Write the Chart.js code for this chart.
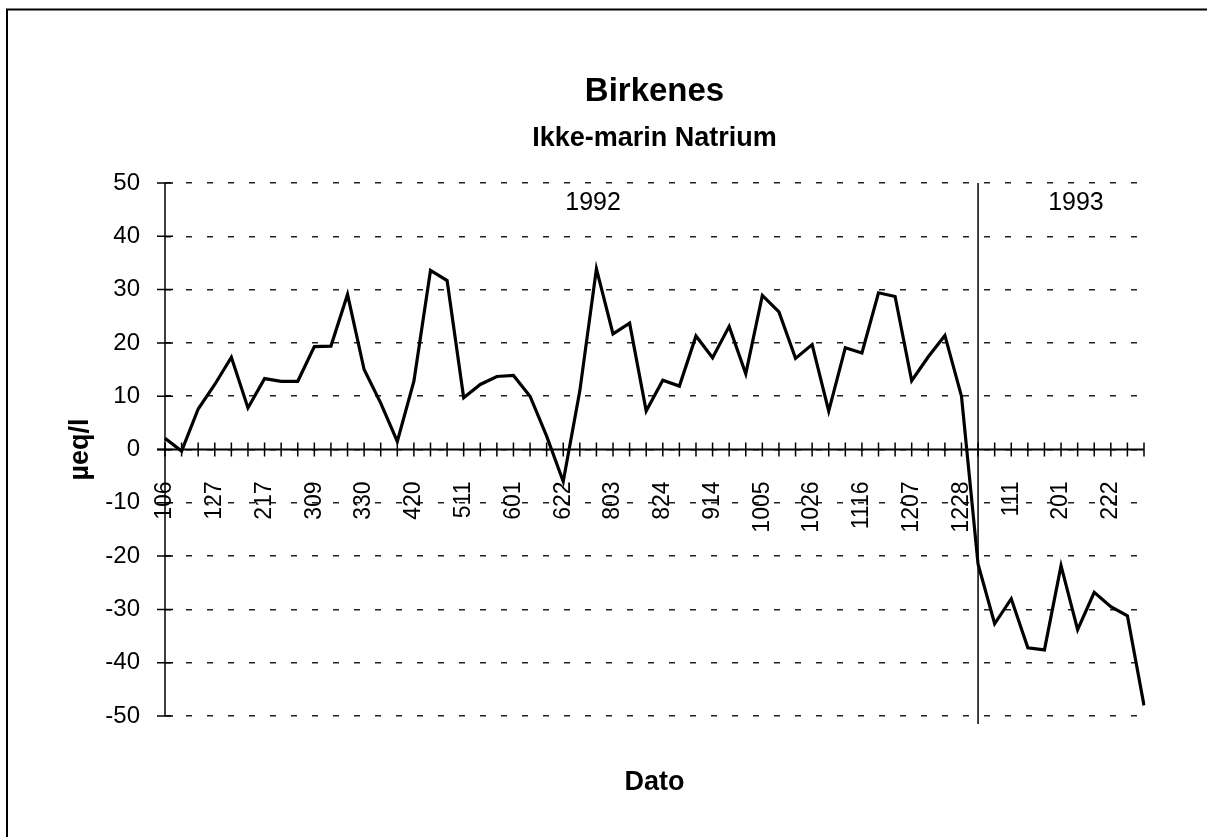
<!DOCTYPE html>
<html>
<head>
<meta charset="utf-8">
<title>Birkenes - Ikke-marin Natrium</title>
<script src="https://cdn.jsdelivr.net/npm/chart.js@4.4.1/dist/chart.umd.min.js"></script>
<style>
  html, body { margin: 0; padding: 0; background: #fff; }
  #grafico { display: block; }
</style>
</head>
<body>
<canvas id="grafico" width="1214" height="837"></canvas>
<script>
// prøvedatoer (mmdd), ukentlige prøver jan 1992 - mars 1993
const datoer = [
  '106', '113', '120', '127', '203', '210', '217', '224', '302', '309',
  '316', '323', '330', '406', '413', '420', '427', '504', '511', '518',
  '525', '601', '608', '615', '622', '629', '727', '803', '810', '817',
  '824', '831', '907', '914', '921', '928', '1005', '1012', '1019', '1026',
  '1102', '1109', '1116', '1123', '1130', '1207', '1214', '1221', '1228', '1231',
  '104', '111', '118', '125', '201', '208', '215', '222', '301', '308'
];

// µeq/l
const verdier = [
  2.1, -0.3, 7.6, 12.2, 17.3, 7.8, 13.3, 12.8, 12.8, 19.3,
  19.4, 29.1, 15.0, 8.7, 1.5, 12.8, 33.6, 31.7, 9.7, 12.2,
  13.7, 13.9, 10.0, 2.5, -6.0, 11.0, 33.9, 21.7, 23.7, 7.2,
  13.0, 11.9, 21.3, 17.2, 23.1, 14.2, 28.9, 25.8, 17.1, 19.7,
  7.2, 19.1, 18.1, 29.4, 28.7, 12.9, 17.4, 21.4, 10.0, -21.5,
  -32.7, -28.0, -37.2, -37.6, -21.8, -33.8, -26.8, -29.5, -31.2, -48.0
];

const aar = ['1992', '1993'];
const aarPlassering = [25.8, 54.9]; // kategoriindeks der årstallet står
const aarSkille = 49;               // indeks for skillelinja mellom årene

const FONT = "'Liberation Sans', Arial, sans-serif";
const FONT_SMAL = "'Liberation Sans Narrow', 'Arial Narrow', 'Liberation Sans', sans-serif";

const tegnEkstra = {
  id: 'tegnEkstra',
  beforeDraw(chart) {
    const ctx = chart.ctx;
    ctx.save();
    ctx.fillStyle = '#fff';
    ctx.fillRect(0, 0, chart.width, chart.height);
    // ramme (bare venstre og øvre kant synlig)
    ctx.strokeStyle = '#000';
    ctx.lineWidth = 2;
    ctx.beginPath();
    ctx.moveTo(7, chart.height);
    ctx.lineTo(7, 9.5);
    ctx.lineTo(1207, 9.5);
    ctx.stroke();
    ctx.restore();
  },
  beforeDatasetsDraw(chart) {
    const { ctx, chartArea, scales: { x, y } } = chart;
    const y0 = y.getPixelForValue(0);
    ctx.save();
    ctx.strokeStyle = '#000';

    // y-akse med kryssende merker
    ctx.lineWidth = 1.5;
    ctx.beginPath();
    ctx.moveTo(chartArea.left, chartArea.top);
    ctx.lineTo(chartArea.left, chartArea.bottom);
    y.ticks.forEach((t, i) => {
      const py = y.getPixelForTick(i);
      ctx.moveTo(chartArea.left - 8, py);
      ctx.lineTo(chartArea.left + 8, py);
    });
    ctx.stroke();

    // x-akse ved 0 med kryssende merker
    ctx.lineWidth = 2;
    ctx.beginPath();
    ctx.moveTo(chartArea.left - 8, y0);
    ctx.lineTo(chartArea.right, y0);
    ctx.stroke();
    ctx.lineWidth = 1.5;
    ctx.beginPath();
    x.ticks.forEach((t, i) => {
      const px = x.getPixelForTick(i);
      ctx.moveTo(px, y0 - 7);
      ctx.lineTo(px, y0 + 7);
    });
    ctx.stroke();

    // skillelinje mellom 1992 og 1993
    const sx = x.getPixelForValue(aarSkille);
    ctx.lineWidth = 1.5;
    ctx.beginPath();
    ctx.moveTo(sx, chartArea.top);
    ctx.lineTo(sx, chartArea.bottom + 8);
    ctx.stroke();
    ctx.restore();
  },
  afterDraw(chart) {
    const { ctx, chartArea, scales: { x, y } } = chart;
    ctx.save();
    ctx.fillStyle = '#000';
    ctx.textAlign = 'center';
    ctx.textBaseline = 'middle';
    ctx.font = '25px ' + FONT;
    aar.forEach((a, i) => {
      ctx.fillText(a, x.getPixelForValue(aarPlassering[i]), y.getPixelForValue(46.3));
    });
    ctx.font = 'bold 27px ' + FONT;
    ctx.fillText('Dato', (chartArea.left + chartArea.right) / 2, chartArea.bottom + 67);
    ctx.restore();
  }
};

const grafico = new Chart(document.getElementById('grafico'), {
  type: 'line',
  data: {
    labels: datoer,
    datasets: [{
      label: 'Ikke-marin Natrium',
      data: verdier,
      borderColor: '#000',
      backgroundColor: '#000',
      borderWidth: 3.2,
      pointRadius: 0,
      tension: 0,
      fill: false
    }]
  },
  options: {
    responsive: false,
    animation: false,
    layout: { padding: { left: 8, right: 70, top: 0, bottom: 121 } },
    scales: {
      x: {
        type: 'category',
        offset: false,
        position: { y: 0 },
        grid: { display: false },
        border: { display: false },
        ticks: {
          autoSkip: false,
          minRotation: 90,
          maxRotation: 90,
          padding: 24,
          color: '#000',
          font: { family: FONT_SMAL, size: 23 },
          callback: function (v, i) { return i % 3 === 0 ? this.getLabelForValue(v) : ''; }
        }
      },
      y: {
        min: -50,
        max: 50,
        afterFit: s => { s.width = 157; },
        grid: {
          color: '#222',
          lineWidth: 1.5,
          drawTicks: false
        },
        border: { display: false, dash: [6, 15] },
        ticks: {
          stepSize: 10,
          padding: 25,
          color: '#000',
          font: { family: FONT, size: 24 }
        },
        title: {
          display: true,
          text: 'µeq/l',
          color: '#000',
          font: { family: FONT, size: 27, weight: 'bold' },
          padding: { top: 56, bottom: 0 }
        }
      }
    },
    plugins: {
      legend: { display: false },
      tooltip: { enabled: false },
      title: {
        display: true,
        text: 'Birkenes',
        fullSize: false,
        color: '#000',
        font: { family: FONT, size: 33, weight: 'bold' },
        padding: { top: 72, bottom: 11 }
      },
      subtitle: {
        display: true,
        text: 'Ikke-marin Natrium',
        fullSize: false,
        color: '#000',
        font: { family: FONT, size: 27, weight: 'bold' },
        padding: { top: 0, bottom: 28 }
      }
    }
  },
  plugins: [tegnEkstra]
});
</script>
</body>
</html>
